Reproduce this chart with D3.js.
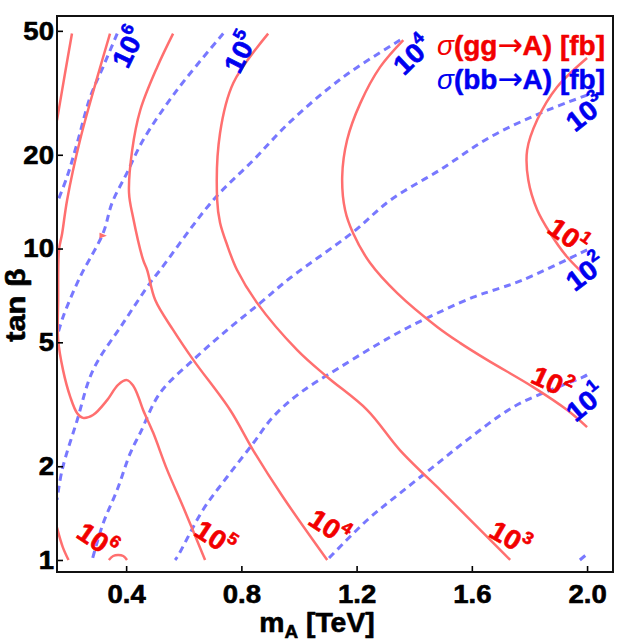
<!DOCTYPE html>
<html>
<head>
<meta charset="utf-8">
<script src="https://cdn.jsdelivr.net/npm/d3@7"></script>
<style>
  body { margin: 0; background: #fff; }
  text { font-family: "Liberation Sans", Arial, sans-serif; font-weight: bold; }
</style>
</head>
<body>
<script>
const width = 619,
  height = 642;
const margin = { top: 16, right: 6, bottom: 70, left: 57 };

// axis ticks
const xTicks = [0.4, 0.8, 1.2, 1.6, 2.0];
const yTicks = [1, 2, 5, 10, 20, 50];

// sigma(gg->A) contours, [mA (TeV), tan beta]
const gg6a = [[0.212, 49], [0.188, 36.6], [0.16, 25.8]];
const gg6b = [[0.16, 1.27], [0.18, 1.1], [0.2, 1.0]];
const gg6c = [[0.34, 1.0], [0.355, 1.03], [0.372, 1.038], [0.39, 1.03], [0.403, 1.0]];
const gg6d = [[0.31, 11.15], [0.326, 11.0], [0.31, 10.85]];
const gg5 = [[0.344, 49], [0.30, 35.5], [0.24, 22.3], [0.195, 14.3], [0.178, 11.2], [0.167, 9.9],
  [0.164, 6.83], [0.164, 5.1], [0.181, 4.07], [0.206, 3.34], [0.23, 2.96], [0.25, 2.86],
  [0.285, 2.92], [0.334, 3.26], [0.372, 3.65], [0.403, 3.78], [0.425, 3.62], [0.442, 3.35],
  [0.459, 3.03], [0.494, 2.56], [0.542, 1.95], [0.598, 1.48], [0.674, 1.0]];
const gg4 = [[0.563, 49], [0.508, 38.3], [0.449, 27.8], [0.421, 20.7], [0.41, 15.1], [0.424, 12.6],
  [0.459, 9.19], [0.473, 8.53], [0.501, 6.83], [0.563, 5.48], [0.633, 4.39], [0.761, 3.03],
  [0.841, 2.25], [0.945, 1.59], [1.098, 1.0]];
const gg3 = [[0.893, 49], [0.772, 34], [0.726, 23.5], [0.716, 14.3], [0.726, 12.1], [0.75, 10.3],
  [0.785, 8.53], [0.855, 6.68], [0.994, 4.72], [1.098, 3.87], [1.237, 3.03], [1.351, 2.25],
  [1.49, 1.68], [1.525, 1.56], [1.733, 1.0]];
const gg2 = [[1.362, 46.7], [1.282, 38.3], [1.213, 29.3], [1.167, 22.3], [1.15, 17.0], [1.16, 13.3],
  [1.188, 11.2], [1.247, 8.98], [1.341, 7.19], [1.48, 5.6], [1.56, 4.97], [1.653, 4.39],
  [1.813, 3.59], [1.931, 3.03], [2.0, 2.67]];
const gg1 = [[2.0, 40.9], [1.896, 33.0], [1.827, 25.9], [1.792, 20.7], [1.796, 16.6], [1.827, 13.3],
  [1.872, 11.2], [1.931, 9.39], [2.0, 8.1]];

// sigma(bb->A) contours
const bb6 = [[0.369, 49], [0.32, 38.3], [0.275, 30.6], [0.23, 21.8], [0.195, 17.0], [0.16, 14.0]];
const bb5 = [[0.737, 49], [0.577, 32.3], [0.459, 22.3], [0.403, 17.5], [0.351, 14.0], [0.32, 11.2],
  [0.24, 8.1], [0.181, 6.03], [0.16, 5.2]];
const bb4 = [[1.351, 46.7], [1.153, 35.5], [0.969, 25.5], [0.841, 19.2], [0.702, 14.3], [0.518, 8.53],
  [0.483, 7.75], [0.39, 5.77], [0.285, 4.07], [0.23, 2.81], [0.178, 1.95], [0.16, 1.56]];
const bb3 = [[2.0, 31.1], [1.838, 27.2], [1.664, 22.8], [1.49, 17.9], [1.317, 14.3], [1.188, 11.3],
  [0.969, 8.04], [0.865, 6.68], [0.751, 5.48], [0.633, 4.39], [0.518, 3.44], [0.449, 2.56],
  [0.414, 2.2], [0.369, 1.68], [0.32, 1.31], [0.282, 1.0]];
const bb2 = [[2.0, 9.9], [1.778, 7.93], [1.699, 7.47], [1.605, 6.98], [1.431, 5.9], [1.317, 5.2],
  [1.143, 4.16], [1.004, 3.44], [0.91, 2.88], [0.841, 2.37], [0.751, 1.85], [0.667, 1.45],
  [0.577, 1.02], [0.57, 1.0]];
const bb1 = [[2.0, 3.93], [1.987, 3.87], [1.872, 3.51], [1.744, 3.1], [1.584, 2.43], [1.466, 1.99],
  [1.351, 1.64], [1.237, 1.344], [1.098, 1.0]];
const bb0 = [[1.975, 1.0], [2.0, 1.045]];

// contour labels: exponent and anchor [mA, tan beta]
const ggLabelExp = [6, 5, 4, 3, 2, 1];
const ggLabelPos = [[0.30, 1.16], [0.709, 1.18], [1.105, 1.28], [1.733, 1.18], [1.879, 3.73], [1.935, 11.0]];
const bbLabelExp = [6, 5, 4, 3, 2, 1];
const bbLabelPos = [[0.407, 44.4], [0.796, 42.7], [1.393, 41.8], [1.994, 27.4], [1.994, 8.41], [1.994, 3.21]];

const ggLines = [gg6a, gg6b, gg6c, gg5, gg4, gg3, gg2, gg1];
const bbLines = [bb6, bb5, bb4, bb3, bb2, bb1, bb0];

const redLine = "#ff6f6f", blueLine = "#7878ff";
const redText = "#f20000", blueText = "#0000f0";

const x = d3.scaleLinear().domain([0.16, 2.09]).range([margin.left, width - margin.right]);
const y = d3.scaleLog().domain([0.915, 55.8]).range([height - margin.bottom, margin.top]);

const svg = d3.select("body").append("svg")
  .attr("width", width)
  .attr("height", height);

// stretch text a little, the original font runs wider
function widen(sel, k) {
  sel.each(function () {
    const L = this.getComputedTextLength();
    d3.select(this).attr("textLength", L * k).attr("lengthAdjust", "spacingAndGlyphs");
  });
}
// heavier strokes, the original glyphs are fatter than Liberation bold
function fatten(sel, color, w) {
  sel.attr("stroke", color).attr("stroke-width", w).attr("stroke-linejoin", "round");
}

svg.append("clipPath").attr("id", "plot")
  .append("rect")
  .attr("x", margin.left).attr("y", margin.top)
  .attr("width", width - margin.left - margin.right)
  .attr("height", height - margin.top - margin.bottom);

const line = d3.line()
  .x(d => x(d[0]))
  .y(d => y(d[1]))
  .curve(d3.curveCatmullRom.alpha(0.5));

const g = svg.append("g").attr("clip-path", "url(#plot)");

g.selectAll("path.bb")
  .data(bbLines)
  .join("path")
  .attr("class", "bb")
  .attr("d", line)
  .attr("fill", "none")
  .attr("stroke", blueLine)
  .attr("stroke-width", 3)
  .attr("stroke-dasharray", "7,5");

g.selectAll("path.gg")
  .data(ggLines)
  .join("path")
  .attr("class", "gg")
  .attr("d", line)
  .attr("fill", "none")
  .attr("stroke", redLine)
  .attr("stroke-width", 2.5);

// the little stray island near tan beta ~ 11
g.append("path")
  .datum(gg6d)
  .attr("d", d3.line().x(d => x(d[0])).y(d => y(d[1])).curve(d3.curveLinearClosed))
  .attr("fill", redLine)
  .attr("stroke", redLine)
  .attr("stroke-width", 1.5);

// contour labels
function drawLabels(pos, exps, angles, color) {
  const t = svg.selectAll(null)
    .data(pos)
    .join("text")
    .attr("transform", (d, i) => `translate(${x(d[0])},${y(d[1])}) rotate(${angles[i]})`)
    .attr("text-anchor", "middle")
    .attr("dy", "0.36em")
    .attr("fill", color)
    .attr("font-size", 27);
  t.append("tspan").text("10");
  t.append("tspan")
    .attr("font-size", 17)
    .attr("dy", "-0.75em")
    .text((d, i) => exps[i]);
  fatten(t, color, 0.6);
  widen(t, 1.05);
}
drawLabels(ggLabelPos, ggLabelExp, [34, 33, 33, 30, 25, 35], redText);
drawLabels(bbLabelPos, bbLabelExp, [-64, -63, -44, -38, -37, -40], blueText);

// axes
const xAxis = svg.append("g")
  .attr("transform", `translate(0,${height - margin.bottom})`)
  .call(d3.axisBottom(x).tickValues(xTicks).tickSize(-6).tickPadding(13).tickFormat(d3.format(".1f")));
const yAxis = svg.append("g")
  .attr("transform", `translate(${margin.left},0)`)
  .call(d3.axisLeft(y).tickValues(yTicks).tickSize(-6).tickPadding(3).tickFormat(d => d));

[xAxis, yAxis].forEach(a => {
  a.select(".domain").remove();
  a.selectAll(".tick line").attr("stroke", "#000").attr("stroke-width", 1.6);
  const tt = a.selectAll(".tick text")
    .attr("fill", "#000")
    .attr("font-size", 26)
    .style("font-family", '"Liberation Sans", Arial, sans-serif')
    .style("font-weight", "bold");
  fatten(tt, "#000", 0.6);
  widen(tt, 1.06);
});

// frame
svg.append("rect")
  .attr("x", margin.left).attr("y", margin.top)
  .attr("width", width - margin.left - margin.right)
  .attr("height", height - margin.top - margin.bottom)
  .attr("fill", "none")
  .attr("stroke", "#111")
  .attr("stroke-width", 2);

// axis titles
const xTitle = svg.append("text")
  .attr("x", 317).attr("y", 632)
  .attr("text-anchor", "middle")
  .attr("font-size", 27);
xTitle.append("tspan").text("m");
xTitle.append("tspan").attr("font-size", 18).attr("dy", 6).text("A");
xTitle.append("tspan").attr("dy", -6).text(" [TeV]");
fatten(xTitle, "#000", 0.6);
widen(xTitle, 1.05);

const yTitle = svg.append("text")
  .attr("transform", "translate(25,305) rotate(-90)")
  .attr("text-anchor", "middle")
  .attr("font-size", 28)
  .text("tan β");
fatten(yTitle, "#000", 0.6);
widen(yTitle, 1.1);

// legend
const legend = [["gg", redText, 55], ["bb", blueText, 89]];
legend.forEach(([p, c, yy]) => {
  const t = svg.append("text")
    .attr("x", 605).attr("y", yy)
    .attr("text-anchor", "end")
    .attr("fill", c)
    .attr("font-size", 28);
  t.append("tspan").attr("font-style", "italic").attr("font-weight", "normal").attr("stroke-width", 0).text("σ");
  t.append("tspan").text(`(${p}`);
  t.append("tspan")
    .style("font-family", '"DejaVu Sans", sans-serif')
    .attr("font-weight", "normal")
    .attr("font-size", 30)
    .attr("stroke-width", 0.3)
    .text("→");
  t.append("tspan").text("A) [fb]");
  fatten(t, c, 0.5);
});
</script>
</body>
</html>
